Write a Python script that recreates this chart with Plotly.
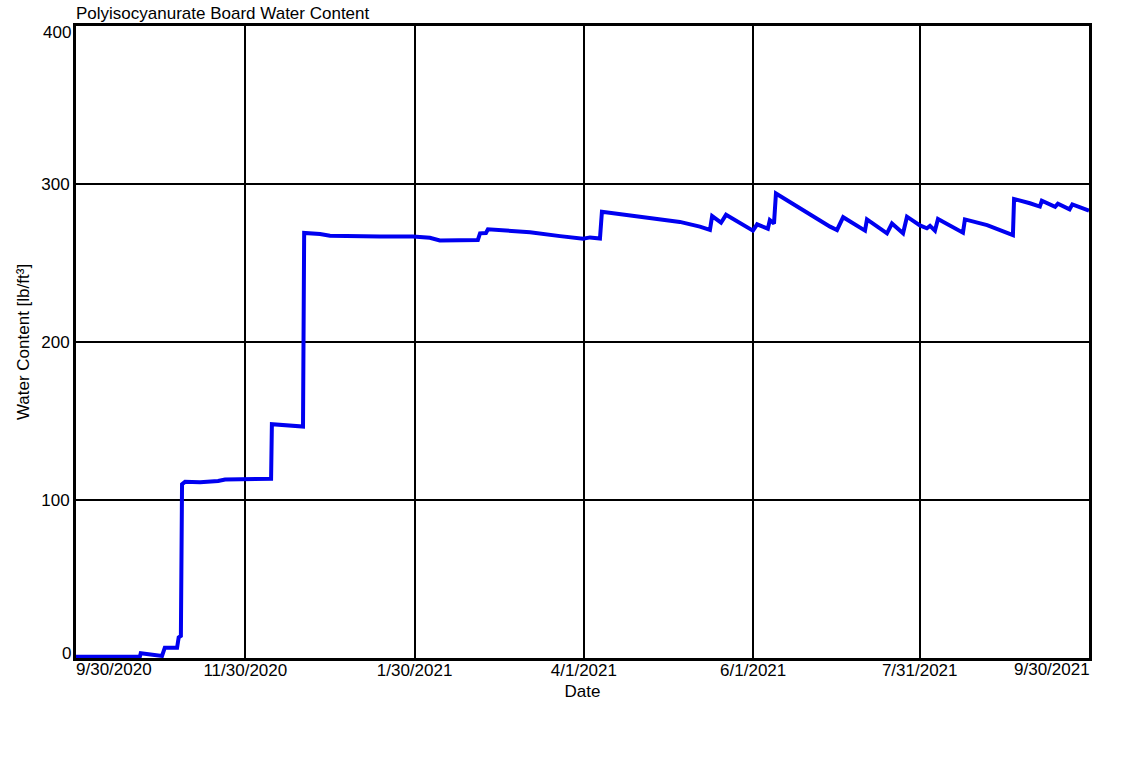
import plotly.graph_objects as go

# ---- data ----
dates = [
    "2020-09-30 00:00", "2020-10-23 00:00", "2020-10-23 08:00", "2020-10-26 16:00", "2020-10-29 12:00",
    "2020-10-31 00:00", "2020-11-01 00:00", "2020-11-05 10:00", "2020-11-06 00:00", "2020-11-06 19:00",
    "2020-11-07 05:00", "2020-11-08 07:00", "2020-11-13 17:00", "2020-11-17 07:00", "2020-11-20 05:00",
    "2020-11-22 17:00", "2020-11-29 22:00", "2020-12-09 07:00", "2020-12-09 14:00", "2020-12-14 07:00",
    "2020-12-20 19:00", "2020-12-21 05:00", "2020-12-26 22:00", "2020-12-30 12:00", "2021-01-04 22:00",
    "2021-01-17 12:00", "2021-01-29 10:00", "2021-02-04 12:00", "2021-02-08 02:00", "2021-02-15 10:00",
    "2021-02-21 19:00", "2021-02-22 14:00", "2021-02-24 17:00", "2021-02-25 10:00", "2021-03-01 19:00",
    "2021-03-12 14:00", "2021-03-23 10:00", "2021-03-30 14:00", "2021-03-31 17:00", "2021-04-03 05:00",
    "2021-04-06 19:00", "2021-04-07 12:00", "2021-04-14 00:00", "2021-04-24 19:00", "2021-05-05 14:00",
    "2021-05-12 19:00", "2021-05-16 10:00", "2021-05-17 05:00", "2021-05-20 10:00", "2021-05-22 05:00",
    "2021-05-30 19:00", "2021-05-31 22:00", "2021-06-02 10:00", "2021-06-06 07:00", "2021-06-07 00:00",
    "2021-06-08 12:00", "2021-06-09 05:00", "2021-06-16 19:00", "2021-06-22 12:00", "2021-06-28 17:00",
    "2021-07-01 05:00", "2021-07-02 07:00", "2021-07-03 10:00", "2021-07-11 07:00", "2021-07-12 00:00",
    "2021-07-19 05:00", "2021-07-21 00:00", "2021-07-25 00:00", "2021-07-26 10:00", "2021-07-31 02:00",
    "2021-08-02 14:00", "2021-08-03 17:00", "2021-08-05 12:00", "2021-08-06 14:00", "2021-08-15 14:00",
    "2021-08-16 07:00", "2021-08-21 12:00", "2021-08-24 07:00", "2021-09-02 14:00", "2021-09-03 00:00",
    "2021-09-08 17:00", "2021-09-12 07:00", "2021-09-13 00:00", "2021-09-17 19:00", "2021-09-18 19:00",
    "2021-09-23 00:00", "2021-09-24 00:00", "2021-09-30 00:00",
]
water_content = [
    0.8, 0.8, 3.0, 2.0, 1.5,
    1.3, 6.5, 6.5, 13.0, 14.0,
    110.0, 111.5, 111.2, 111.5, 112.0,
    113.0, 113.0, 113.5, 148.0, 147.5,
    146.5, 269.0, 268.3, 267.2, 267.0,
    266.7, 266.8, 266.0, 264.3, 264.2,
    264.6, 268.8, 269.0, 271.3, 270.8,
    269.5, 267.0, 265.6, 265.3, 266.2,
    265.5, 282.5, 281.0, 279.0, 276.0,
    273.0, 270.9, 279.7, 275.5, 280.5,
    272.0, 270.5, 274.5, 271.7, 277.2,
    275.0, 294.0, 285.7, 279.3, 273.0,
    270.9, 275.0, 279.0, 270.5, 277.6,
    268.8, 275.0, 268.8, 279.3, 273.8,
    272.0, 273.5, 270.5, 277.8, 269.2,
    277.6, 275.0, 274.0, 267.7, 290.5,
    287.8, 285.7, 289.4, 285.5, 287.5,
    284.0, 287.1, 283.1,
]
x_tick_dates = ["2020-11-30", "2021-01-30", "2021-04-01", "2021-06-01", "2021-07-31"]
x_tick_text = ["11/30/2020", "1/30/2021", "4/1/2021", "6/1/2021", "7/31/2021"]
x_start, x_end = "2020-09-30", "2021-09-30"
x_start_label, x_end_label = "9/30/2020", "9/30/2021"
y_ticks = [100, 200, 300]
y_min, y_max = 0, 400
y_min_label, y_max_label = "0", "400"

FONT = "Liberation Sans, Arial, sans-serif"

fig = go.Figure()
fig.add_trace(go.Scatter(
    x=dates, y=water_content, mode="lines",
    line=dict(color="#0000f0", width=4),
    hoverinfo="skip", showlegend=False,
))

fig.update_layout(
    width=1123, height=766,
    margin=dict(l=76, r=34, t=26, b=108),
    paper_bgcolor="white", plot_bgcolor="white",
    font=dict(family=FONT, size=17, color="black"),
    showlegend=False,
)
fig.update_xaxes(
    type="date", range=[x_start, x_end],
    tickmode="array", tickvals=x_tick_dates, ticktext=x_tick_text,
    showgrid=True, gridcolor="black", gridwidth=1.5,
    showline=True, linecolor="black", linewidth=3, mirror=True,
    ticks="", zeroline=False, ticklabelstandoff=-5,
    title=dict(text="Date", standoff=6, font=dict(size=17)),
)
fig.update_yaxes(
    range=[y_min, y_max], tickmode="array", tickvals=y_ticks,
    showgrid=True, gridcolor="black", gridwidth=1.5,
    showline=True, linecolor="black", linewidth=3, mirror=True,
    ticks="", zeroline=False,
    title=dict(text="Water Content [lb/ft³]", standoff=8, font=dict(size=17)),
)
# end-of-axis labels, kept inside the axis extent as in the reference
ann_font = dict(family=FONT, size=17)
fig.add_annotation(x=x_start, y=0, xref="x", yref="paper", text=x_start_label,
                   showarrow=False, xanchor="left", yanchor="top", xshift=-2, yshift=0, font=ann_font)
fig.add_annotation(x=x_end, y=0, xref="x", yref="paper", text=x_end_label,
                   showarrow=False, xanchor="right", yanchor="top", xshift=3, yshift=0, font=ann_font)
fig.add_annotation(x=0, y=y_min, xref="paper", yref="y", text=y_min_label,
                   showarrow=False, xanchor="right", yanchor="bottom", xshift=-3, yshift=-7, font=ann_font)
fig.add_annotation(x=0, y=y_max, xref="paper", yref="y", text=y_max_label,
                   showarrow=False, xanchor="right", yanchor="top", xshift=-3, yshift=5, font=ann_font)
fig.add_annotation(x=0, y=1, xref="paper", yref="paper", text="Polyisocyanurate Board Water Content",
                   showarrow=False, xanchor="left", yanchor="bottom", xshift=-2, yshift=1, font=ann_font)

fig.write_html("out.html", config={"displayModeBar": False},
               post_script="document.body.style.margin='0';")
